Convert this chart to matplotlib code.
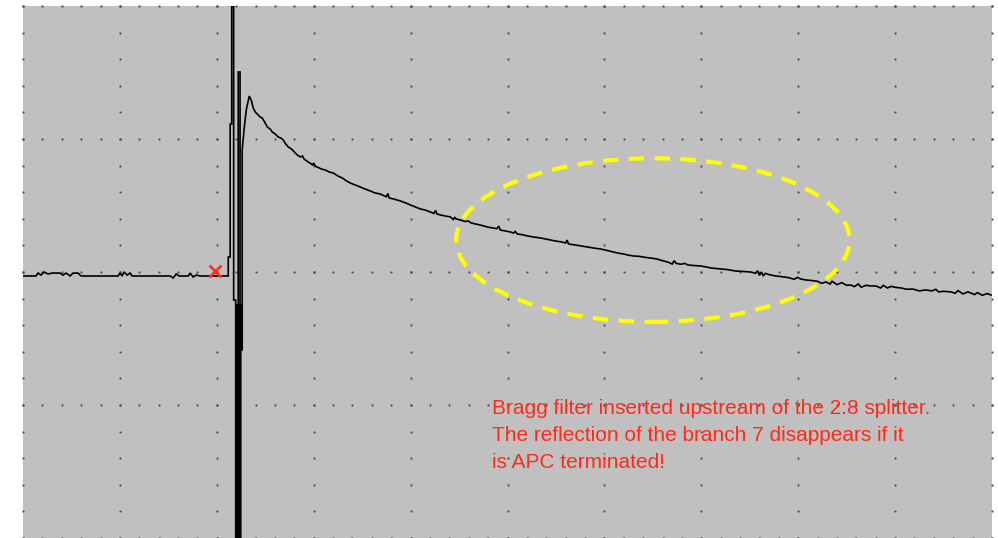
import matplotlib
matplotlib.use('Agg')
import matplotlib.pyplot as plt
import numpy as np
from matplotlib.patches import Ellipse

# trace, in screen divisions (x: 0..10, y: 0..4)
baseline_x = [0.000, 0.134, 0.155, 0.186, 0.217, 0.258, 0.300, 0.382, 0.413, 0.444,
              0.486, 0.517, 0.568, 0.599, 0.795, 0.981, 1.002, 1.023, 1.043, 1.074,
              1.105, 1.126, 1.519, 1.550, 1.581, 1.612, 1.705, 1.725, 1.756, 1.787,
              1.829, 2.107, 2.118]
baseline_y = [1.970, 1.970, 1.992, 1.977, 2.000, 1.985, 1.992, 1.992, 1.977, 1.992,
              1.970, 1.992, 1.992, 1.970, 1.970, 1.970, 1.992, 1.970, 2.000, 1.977,
              1.992, 1.970, 1.970, 1.955, 1.985, 1.970, 1.970, 1.992, 1.962, 1.977,
              1.970, 1.970, 1.970]

# filter reflection: ringing, clipped at both screen edges
pulse_x = [2.118, 2.138, 2.138, 2.154, 2.154, 2.174, 2.174, 2.195, 2.195, 2.209,
           2.209, 2.221, 2.221, 2.234, 2.234, 2.247, 2.247, 2.221, 2.221, 2.240,
           2.240, 2.262, 2.262]
pulse_y = [2.113, 2.113, 3.113, 3.113, 4.000, 4.000, 1.789, 1.789, 0.000, 0.000,
           1.752, 1.752, 0.000, 0.000, 1.752, 1.752, 0.000, 0.000, 3.504, 3.504,
           1.414, 1.414, 2.917]

# backscatter decay after the event
decay_x = [2.283, 2.304, 2.335, 2.355, 2.376, 2.397, 2.428, 2.448, 2.469, 2.500,
           2.521, 2.551, 2.572, 2.603, 2.634, 2.660, 2.686, 2.712, 2.738, 2.770,
           2.800, 2.830, 2.862, 2.885, 2.900, 2.944, 2.990, 3.000, 3.015, 3.037,
           3.080, 3.120, 3.160, 3.202, 3.250, 3.295, 3.340, 3.378, 3.430, 3.481,
           3.530, 3.585, 3.630, 3.688, 3.720, 3.750, 3.765, 3.780, 3.830, 3.895,
           3.950, 3.998, 4.050, 4.101, 4.150, 4.205, 4.240, 4.258, 4.272, 4.308,
           4.350, 4.411, 4.440, 4.455, 4.470, 4.514, 4.560, 4.600, 4.620, 4.669,
           4.720, 4.793, 4.850, 4.890, 4.910, 4.925, 4.980, 5.030, 5.062, 5.080,
           5.100, 5.150, 5.207, 5.270, 5.341, 5.420, 5.496, 5.560, 5.600, 5.615,
           5.630, 5.700, 5.760, 5.826, 5.890, 5.961, 6.050, 6.136, 6.200, 6.240,
           6.302, 6.360, 6.420, 6.477, 6.540, 6.600, 6.653, 6.700, 6.720, 6.740,
           6.790, 6.830, 6.860, 6.900, 6.994, 7.050, 7.100, 7.200, 7.270, 7.350,
           7.430, 7.510, 7.560, 7.580, 7.600, 7.620, 7.640, 7.660, 7.700, 7.769,
           7.830, 7.900, 7.960, 7.990, 8.027, 8.080, 8.150, 8.200, 8.240, 8.285,
           8.330, 8.350, 8.400, 8.450, 8.500, 8.543, 8.580, 8.620, 8.650, 8.700,
           8.750, 8.802, 8.850, 8.880, 8.920, 8.960, 9.000, 9.060, 9.120, 9.180,
           9.250, 9.318, 9.380, 9.420, 9.450, 9.500, 9.576, 9.620, 9.650, 9.700,
           9.750, 9.783, 9.820, 9.850, 9.900, 9.950, 9.990]
decay_y = [3.083, 3.218, 3.323, 3.293, 3.233, 3.203, 3.180, 3.165, 3.158, 3.120,
           3.090, 3.075, 3.053, 3.038, 3.015, 3.008, 2.992, 2.962, 2.940, 2.925,
           2.902, 2.880, 2.865, 2.872, 2.850, 2.827, 2.805, 2.820, 2.797, 2.789,
           2.774, 2.767, 2.752, 2.744, 2.722, 2.707, 2.684, 2.669, 2.654, 2.639,
           2.624, 2.609, 2.595, 2.586, 2.575, 2.566, 2.590, 2.556, 2.548, 2.534,
           2.519, 2.504, 2.489, 2.474, 2.466, 2.451, 2.440, 2.462, 2.436, 2.429,
           2.422, 2.414, 2.395, 2.410, 2.399, 2.391, 2.380, 2.383, 2.370, 2.361,
           2.353, 2.338, 2.331, 2.326, 2.345, 2.316, 2.308, 2.301, 2.293, 2.305,
           2.286, 2.281, 2.271, 2.263, 2.256, 2.244, 2.233, 2.226, 2.218, 2.240,
           2.211, 2.203, 2.196, 2.188, 2.180, 2.173, 2.158, 2.143, 2.135, 2.128,
           2.120, 2.118, 2.110, 2.105, 2.098, 2.085, 2.075, 2.060, 2.085, 2.065,
           2.058, 2.065, 2.053, 2.050, 2.045, 2.038, 2.030, 2.023, 2.018, 2.008,
           2.004, 2.000, 1.990, 2.010, 1.975, 2.000, 1.970, 1.990, 1.980, 1.970,
           1.965, 1.958, 1.945, 1.960, 1.947, 1.940, 1.935, 1.930, 1.915, 1.925,
           1.910, 1.930, 1.905, 1.920, 1.900, 1.902, 1.890, 1.910, 1.885, 1.900,
           1.895, 1.895, 1.880, 1.900, 1.880, 1.892, 1.885, 1.880, 1.870, 1.872,
           1.858, 1.865, 1.858, 1.870, 1.850, 1.855, 1.850, 1.840, 1.860, 1.835,
           1.850, 1.842, 1.830, 1.845, 1.825, 1.838, 1.827]

cursor_x, cursor_y = 1.983, 2.008
ring_center = (6.50, 2.24)
ring_width, ring_height = 4.06, 1.23

note = ("Bragg filter inserted upstream of the 2:8 splitter.\n"
        "The reflection of the branch 7 disappears if it\n"
        "is APC terminated!")

W, H = 998, 538
fig = plt.figure(figsize=(W / 100, H / 100), dpi=100)
fig.patch.set_facecolor('white')
ax = fig.add_axes([23 / W, 0, 969 / W, 532 / H])
ax.set_facecolor('#c0c0c0')
ax.set_xlim(0, 10)
ax.set_ylim(0, 4)
for s in ax.spines.values():
    s.set_visible(False)
ax.set_xticks([])
ax.set_yticks([])

# dotted graticule: 10 x 4 divisions, 5 sub-dots each
dot = dict(ls='none', marker='s', ms=1.4, mew=0, color='#4a4a4a', clip_on=False, zorder=1)
sub_x = np.arange(0, 10.001, 0.2)
sub_y = np.arange(0, 4.001, 0.2)
for gy in range(5):
    ax.plot(sub_x, np.full_like(sub_x, gy), **dot)
for gx in range(11):
    ax.plot(np.full_like(sub_y, gx), sub_y, **dot)

trace_x = baseline_x + pulse_x + decay_x
trace_y = baseline_y + pulse_y + decay_y
ax.plot(trace_x, trace_y, color='black', lw=1.2, solid_joinstyle='miter', zorder=3)

ax.plot([cursor_x], [cursor_y], marker='x', ms=8, mew=2, color='#ff3322', zorder=4)

ax.add_patch(Ellipse(ring_center, ring_width, ring_height, fill=False,
                     edgecolor='#ffff00', lw=3, linestyle=(0, (3.7, 2.5)), zorder=5))

ax.text(4.845, 1.045, note, color='#ff2a1a', fontsize=15, family='Liberation Sans',
        va='top', ha='left', linespacing=1.52, zorder=6)

plt.savefig('out.png', dpi=100)
